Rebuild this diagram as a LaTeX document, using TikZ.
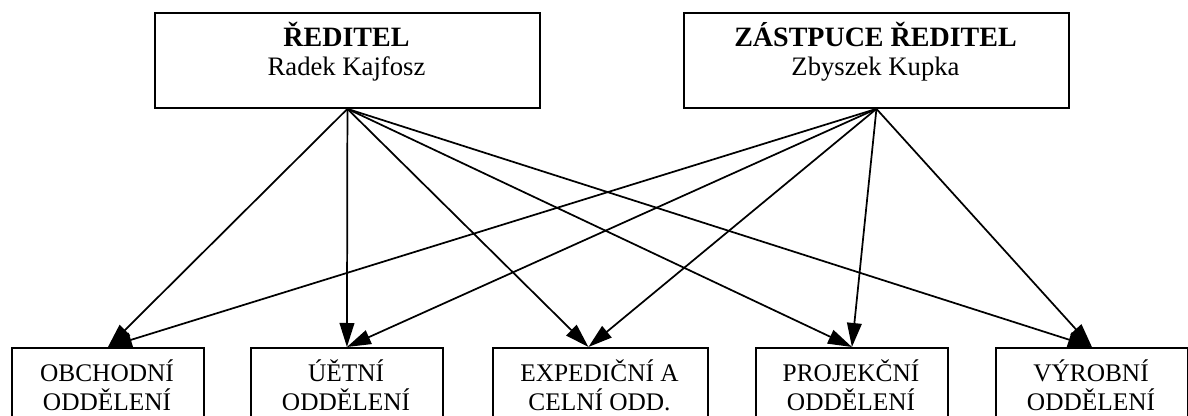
\documentclass[tikz,border=0pt]{standalone}
\usepackage{fontspec}
\setmainfont{Liberation Serif}
\usetikzlibrary{arrows.meta}
\begin{document}
\begin{tikzpicture}[x=0.75pt,y=-0.75pt,
  topbox/.style={draw,line width=1.4pt,fill=white,inner sep=0pt,anchor=north west,minimum width=288.75pt,minimum height=71.25pt},
  dept/.style={draw,line width=1.4pt,fill=white,inner sep=0pt,anchor=north west,minimum width=144pt,minimum height=75pt},
  toptext/.style={align=center,inner sep=0pt,anchor=base,font=\fontsize{20pt}{21.75pt}\selectfont},
  depttext/.style={align=center,inner sep=0pt,anchor=base,font=\fontsize{19pt}{21pt}\selectfont},
  conn/.style={line width=1.3pt,-{Triangle[length=18pt,width=11pt]}}]
\useasboundingbox (0,0) rectangle (1188,416);
\clip (0,0) rectangle (1188,416);
% top boxes
\node[topbox] (r) at (154,12) {};
\node[topbox] (z) at (683,12) {};
\node[toptext] (rt) at (346.5,76) {{\fontsize{21pt}{21.75pt}\selectfont\bfseries ŘEDITEL}\\Radek Kajfosz};
\node[toptext] (zt) at (875.5,76) {{\fontsize{21pt}{21.75pt}\selectfont\bfseries ZÁSTPUCE ŘEDITEL}\\Zbyszek Kupka};
% department boxes
\node[dept] (o) at (11,347) {};
\node[dept] (u) at (250,347) {};
\node[dept,minimum width=161.25pt] (e) at (492,347) {};
\node[dept] (p) at (755,347) {};
\node[dept] (v) at (995,347) {};
\node[depttext] (ot) at (107,410) {OBCHODNÍ\\ODDĚLENÍ};
\node[depttext] (ut) at (346,410) {ÚĚTNÍ\\ODDĚLENÍ};
\node[depttext] (et) at (599.5,410) {EXPEDIČNÍ A\\CELNÍ ODD.};
\node[depttext] (pt) at (851,410) {PROJEKČNÍ\\ODDĚLENÍ};
\node[depttext] (vt) at (1091,410) {VÝROBNÍ\\ODDĚLENÍ};
% connectors
\coordinate (etop) at ([xshift=-9pt]e.north);
\foreach \t in {o.north,u.north,etop,p.north,v.north}{
  \draw[conn] (r.south) -- (\t);
  \draw[conn] (z.south) -- (\t);
}
\end{tikzpicture}
\end{document}
